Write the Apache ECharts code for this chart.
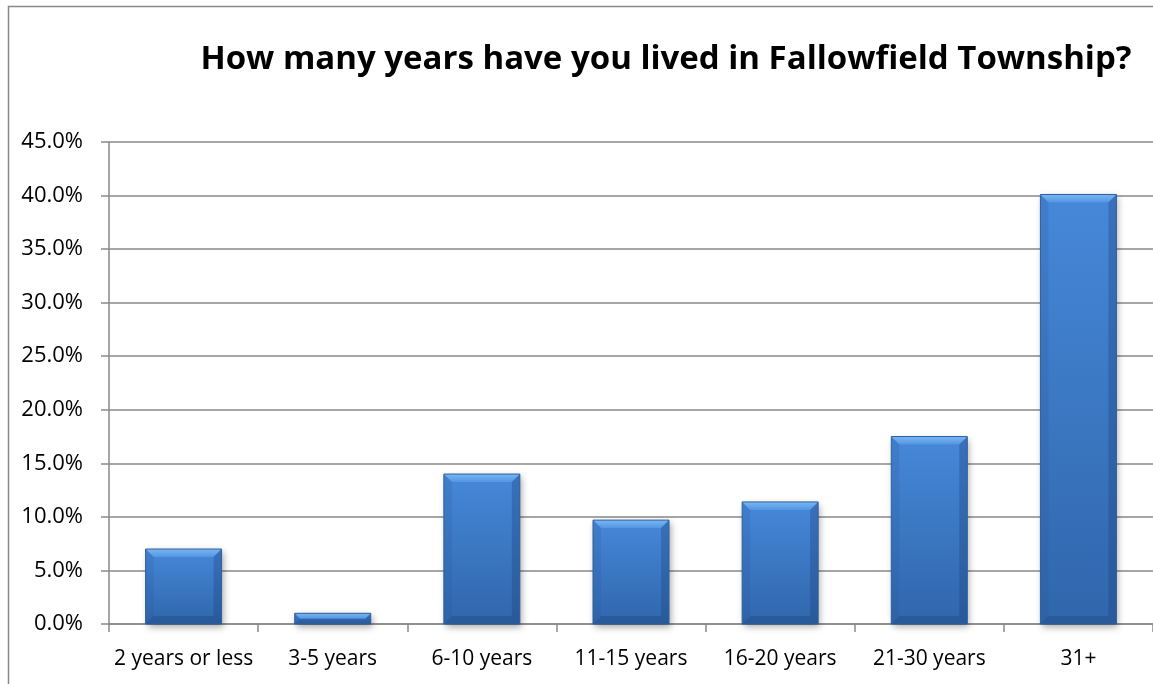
<!DOCTYPE html>
<html>
<head>
<meta charset="utf-8">
<script src="https://cdn.jsdelivr.net/npm/echarts@6/dist/echarts.min.js"></script>
<style>
  html, body { margin: 0; padding: 0; background: #fff; }
  #chart { width: 1153px; height: 684px; }
</style>
</head>
<body>
<div id="chart"></div>
<script>
// 数据
const categories = ['2 years or less', '3-5 years', '6-10 years', '11-15 years', '16-20 years', '21-30 years', '31+']
const shares = [7.0, 1.0, 14.0, 9.7, 11.4, 17.5, 40.1]
const titleText = 'How many years have you lived in Fallowfield Township?'

const font = 'Open Sans'
const myChart = echarts.init(document.getElementById('chart'))

// 带斜角效果的柱子
const renderBar = (params, api) => {
  const idx = api.value(0)
  const top = api.coord([idx, api.value(1)])
  const base = api.coord([idx, 0])
  const w = 76
  const x0 = top[0] - w / 2
  const x1 = top[0] + w / 2
  const y0 = top[1]
  const y1 = base[1]
  const h = y1 - y0
  const b = Math.min(8, h / 2)
  return {
    type: 'group',
    children: [
      {
        type: 'rect',
        shape: { x: x0, y: y0, width: w, height: h },
        style: {
          fill: new echarts.graphic.LinearGradient(0, 0, 0, 1, [
            { offset: 0, color: '#4688d9' },
            { offset: 1, color: '#3066ab' }
          ]),
          shadowColor: 'rgba(0,0,0,0.35)',
          shadowBlur: 7,
          shadowOffsetX: 2,
          shadowOffsetY: 3
        }
      },
      { // 顶部高光
        type: 'polygon',
        shape: { points: [[x0, y0], [x1, y0], [x1 - b, y0 + b], [x0 + b, y0 + b]] },
        style: {
          fill: new echarts.graphic.LinearGradient(0, 0, 0, 1, [
            { offset: 0, color: '#7ab6f3' },
            { offset: 1, color: '#5296e2' }
          ])
        }
      },
      { // 左边
        type: 'polygon',
        shape: { points: [[x0, y0], [x0 + b, y0 + b], [x0 + b, y1 - b], [x0, y1]] },
        style: { fill: 'rgba(40,85,150,0.18)' }
      },
      { // 右边
        type: 'polygon',
        shape: { points: [[x1, y0], [x1 - b, y0 + b], [x1 - b, y1 - b], [x1, y1]] },
        style: { fill: 'rgba(25,60,115,0.3)' }
      },
      { // 底边
        type: 'polygon',
        shape: { points: [[x0, y1], [x0 + b, y1 - b], [x1 - b, y1 - b], [x1, y1]] },
        style: { fill: 'rgba(20,50,100,0.25)' }
      },
      {
        type: 'rect',
        shape: { x: x0, y: y0, width: w, height: h },
        style: { fill: 'none', stroke: '#2f5f9c', lineWidth: 1 }
      }
    ]
  }
}

const option = {
  animation: false,
  backgroundColor: '#fff',
  title: {
    text: titleText,
    left: 661,
    textAlign: 'center',
    top: 38,
    textStyle: { fontFamily: font, fontWeight: 'bold', fontSize: 33, color: '#000' }
  },
  // 外框
  graphic: [{
    type: 'rect',
    shape: { x: 8.5, y: 6.5, width: 1200, height: 700 },
    style: { fill: 'none', stroke: '#898989', lineWidth: 1.5 },
    silent: true
  }],
  grid: { left: 109, top: 142, width: 1050, height: 482 },
  xAxis: {
    type: 'category',
    data: categories,
    axisLine: { lineStyle: { color: '#898989', width: 1.5 } },
    axisTick: { show: true, length: 8, lineStyle: { color: '#898989', width: 1.5 } },
    axisLabel: { fontFamily: font, fontSize: 21, color: '#000', margin: 25, interval: 0 }
  },
  yAxis: {
    type: 'value',
    min: 0,
    max: 45,
    interval: 5,
    axisLine: { show: true, lineStyle: { color: '#898989', width: 1.5 } },
    axisTick: { show: true, length: 8, lineStyle: { color: '#898989', width: 1.5 } },
    splitLine: { lineStyle: { color: '#898989', width: 1.5 } },
    axisLabel: {
      fontFamily: font, fontSize: 22, color: '#000', margin: 26,
      formatter: v => v.toFixed(1) + '%'
    }
  },
  series: [{
    type: 'custom',
    renderItem: renderBar,
    encode: { x: 0, y: 1 },
    data: shares.map((v, i) => [i, v])
  }]
}

myChart.setOption(option)
</script>
</body>
</html>
